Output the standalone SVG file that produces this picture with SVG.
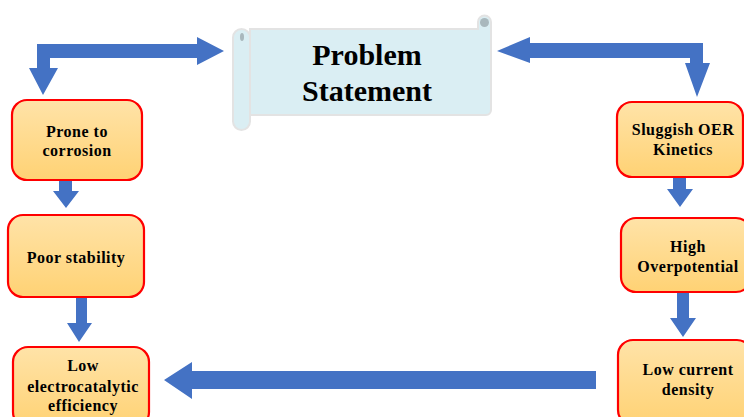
<svg xmlns="http://www.w3.org/2000/svg" width="744" height="417" viewBox="0 0 744 417">
<defs>
<linearGradient id="og" x1="0" y1="0" x2="0" y2="1">
<stop offset="0" stop-color="#ffe3a8"/>
<stop offset="1" stop-color="#ffd274"/>
</linearGradient>
<style>
.box{fill:url(#og);stroke:#ff0000;stroke-width:2.2}
.t{font-family:"Liberation Serif","Times New Roman",serif;font-weight:bold;font-size:16px;fill:#000;text-anchor:middle;letter-spacing:0.5px}
.big{font-family:"Liberation Serif","Times New Roman",serif;font-weight:bold;font-size:30px;fill:#000;text-anchor:middle}
.arr{fill:#4472c4}
.scroll{fill:#daeef3;stroke:#e3e3e3;stroke-width:2}
</style>
</defs>
<rect width="744" height="417" fill="#fff"/>
<g id="connectors">
<path class="arr" d="M37,44 H197 V37 L224,51 L197,65 V58 H50 V68 H58 L43,95 L29,68 H37 Z"/>
<path class="arr" d="M703,43 H530 V37 L497,51 L530,63 V58 H690 V63 H685 L697,97 L710,63 H703 Z"/>
<path class="arr" d="M59,180 H72 V191 H79 L66,208 L53,191 H59 Z"/>
<path class="arr" d="M76,297 H87 V323 H92 L79,342 L67,323 H76 Z"/>
<path class="arr" d="M673,177 H686 V189 H693 L680,207 L667,189 H673 Z"/>
<path class="arr" d="M677,292 H689 V318 H696 L683,337 L670,318 H677 Z"/>
<path class="arr" d="M596,371 V389 H192 V399 L164,380 L192,362 V371 Z"/>
</g>
<g id="problem-statement">
<path class="scroll" d="M478,22 a6.5,6.5 0 0 1 13,0 V110 a5,5 0 0 1 -5,5 H250 V29 H478 Z"/>
<rect class="scroll" x="233" y="29" width="17" height="101" rx="8.5"/>
<circle cx="484.5" cy="22.5" r="4.5" fill="#a9b8bd"/>
<ellipse cx="242" cy="37" rx="2" ry="4" fill="#a9b8bd"/>
<text class="big" x="367" y="65">Problem</text>
<text class="big" x="367" y="101">Statement</text>
</g>
<g id="prone-to-corrosion">
<rect class="box" x="12" y="100" width="130" height="80" rx="15"/>
<text class="t" x="77" y="137">Prone to</text>
<text class="t" x="77" y="156">corrosion</text>
</g>
<g id="poor-stability">
<rect class="box" x="8" y="215" width="136" height="82" rx="15"/>
<text class="t" x="76" y="263">Poor stability</text>
</g>
<g id="low-electrocatalytic-efficiency">
<rect class="box" x="13" y="347" width="136" height="80" rx="15"/>
<text class="t" x="83" y="371">Low</text>
<text class="t" x="83" y="392">electrocatalytic</text>
<text class="t" x="83" y="411">efficiency</text>
</g>
<g id="sluggish-oer-kinetics">
<rect class="box" x="617" y="102" width="126" height="75" rx="15"/>
<text class="t" x="683" y="135">Sluggish OER</text>
<text class="t" x="683" y="155">Kinetics</text>
</g>
<g id="high-overpotential">
<rect class="box" x="621" y="218" width="130" height="74" rx="15"/>
<text class="t" x="688" y="252">High</text>
<text class="t" x="688" y="272">Overpotential</text>
</g>
<g id="low-current-density">
<rect class="box" x="618" y="340" width="134" height="85" rx="15"/>
<text class="t" x="688" y="375">Low current</text>
<text class="t" x="688" y="395">density</text>
</g>
</svg>
